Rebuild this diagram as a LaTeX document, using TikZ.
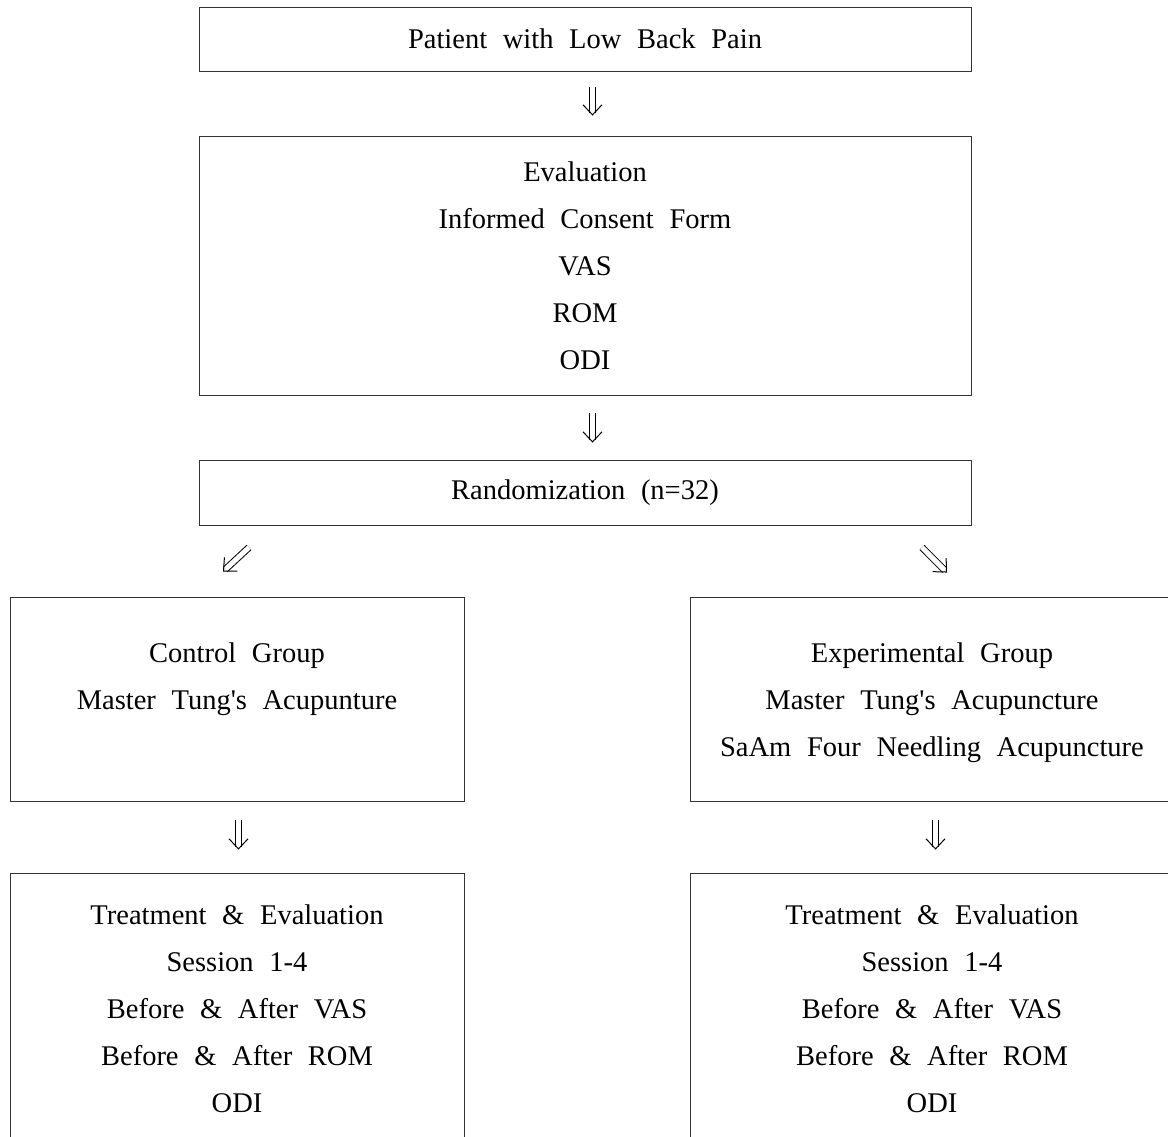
\documentclass[tikz,border=0pt]{standalone}
\usepackage{fontspec}
\setmainfont{Liberation Serif}[WordSpace=2.2]
\usetikzlibrary{positioning,calc,arrows.meta}

\begin{document}
\begin{tikzpicture}[x=1pt, y=1pt,
  box/.style={draw=black!80, line width=0.9pt, inner sep=0pt},
  txt/.style={align=center, font=\fontsize{28.5}{47}\selectfont},
  dblline/.style={double, double distance=5pt, line width=1pt, shorten >=3pt},
  dblhead/.style={line width=1pt, -{Straight Barb[length=10pt, width=19pt, line width=1pt]}}]

\useasboundingbox (0,0) rectangle (1168,-1137);
\clip (0,0) rectangle (1168,-1137);

% Top box
\node[box, txt, minimum width=772pt, minimum height=64pt] (patient) at (585,-39) {Patient with Low Back Pain};

% Evaluation box
\node[box, txt, minimum width=772pt, minimum height=259pt] (eval) at (585,-265.5)
  {Evaluation\\Informed Consent Form\\VAS\\ROM\\ODI};

% Randomization box
\node[box, txt, minimum width=772pt, minimum height=65pt] (random) at (585,-492.5) {Randomization (n=32)};

% Group boxes
\node[box, minimum width=454pt, minimum height=204pt] (control) at (237,-699) {};
\node[txt] (controltxt) at (237,-679) {Control Group\\Master Tung\textquotesingle s Acupunture};
\node[box, minimum width=490pt, minimum height=204pt] (exper) at (935,-699) {};
\node[txt] (expertxt) at (932,-703) {Experimental Group\\Master Tung\textquotesingle s Acupuncture\\SaAm Four Needling Acupuncture};

% Treatment boxes (cut off at the bottom)
\node[box, minimum width=454pt, minimum height=290pt] (treatL) at (237,-1018) {};
\node[txt] (treatLtxt) at (237,-1009) {Treatment \& Evaluation\\Session 1-4\\Before \& After VAS\\Before \& After ROM\\ODI};
\node[box, minimum width=490pt, minimum height=290pt] (treatR) at (935,-1018) {};
\node[txt] (treatRtxt) at (932,-1009) {Treatment \& Evaluation\\Session 1-4\\Before \& After VAS\\Before \& After ROM\\ODI};

% Arrow end points
\coordinate (a1s) at ([xshift=7.5pt, yshift=-16pt]patient.south);
\coordinate (a1e) at ([xshift=7.5pt, yshift=20pt]eval.north);
\coordinate (a2s) at ([xshift=7.5pt, yshift=-18pt]eval.south);
\coordinate (a2e) at ([xshift=7.5pt, yshift=17pt]random.north);
\coordinate (a3s) at ([shift={(-336,-22)}]random.south);
\coordinate (a3e) at ([shift={(-14,25)}]control.north);
\coordinate (a4s) at ([shift={(337,-22)}]random.south);
\coordinate (a4e) at ([shift={(12,24)}]exper.north);
\coordinate (a5s) at ([xshift=1.5pt, yshift=-19pt]control.south);
\coordinate (a5e) at ([xshift=1.5pt, yshift=23pt]treatL.north);
\coordinate (a6s) at ([xshift=0.5pt, yshift=-19pt]exper.south);
\coordinate (a6e) at ([xshift=0.5pt, yshift=23pt]treatR.north);

% Double arrows
\foreach \s/\e in {a1s/a1e, a2s/a2e, a3s/a3e, a4s/a4e, a5s/a5e, a6s/a6e} {
  \draw[dblline] (\s) -- (\e);
  \draw[dblhead] ($(\e)!1pt!(\s)$) -- (\e);
}

\end{tikzpicture}
\end{document}
